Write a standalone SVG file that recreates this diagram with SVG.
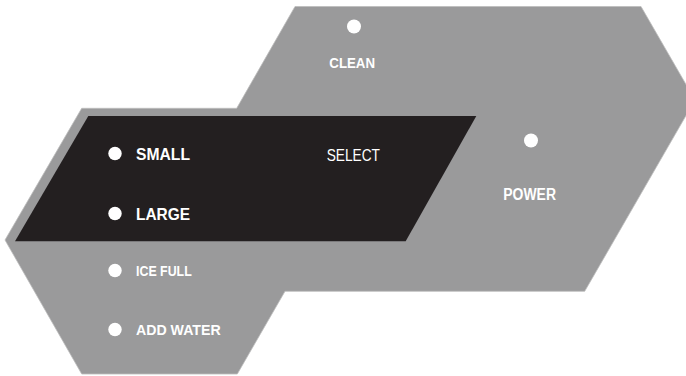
<svg xmlns="http://www.w3.org/2000/svg" width="686" height="376" viewBox="0 0 686 376">
<style>
.lbl{font-family:"Liberation Sans","Noto Sans",Arial,sans-serif;font-weight:bold;fill:#ffffff}
.sel{font-family:"Liberation Sans","Noto Sans",Arial,sans-serif;font-weight:normal;fill:#ffffff}
.dot{fill:#ffffff}
</style>
<rect width="686" height="376" fill="#ffffff"/>
<g id="panel">
<polygon points="295,6.5 641,6.5 695,100 584.7,291.3 285,291.3 237.3,374 81.7,374 5,240 81.7,108.3 236.7,108.3" fill="#9a9a9b" stroke="#bdbdbd" stroke-width="0.8"/>
<polygon points="88.3,116 476.3,116 405.7,241.3 15,241.3" fill="#231f20"/>
</g>
<g id="small">
<circle class="dot" cx="115" cy="153.5" r="6.7"/>
<text class="lbl" x="136" y="160" font-size="16.5" textLength="54" lengthAdjust="spacingAndGlyphs">SMALL</text>
</g>
<g id="large">
<circle class="dot" cx="115" cy="213.5" r="6.7"/>
<text class="lbl" x="136" y="220" font-size="16.5" textLength="54" lengthAdjust="spacingAndGlyphs">LARGE</text>
</g>
<g id="select">
<text class="sel" x="326.7" y="160.7" font-size="17" textLength="53.3" lengthAdjust="spacingAndGlyphs">SELECT</text>
</g>
<g id="ice-full">
<circle class="dot" cx="115" cy="270.5" r="6.7"/>
<text class="lbl" x="136" y="276" font-size="15" textLength="55.7" lengthAdjust="spacingAndGlyphs">ICE FULL</text>
</g>
<g id="add-water">
<circle class="dot" cx="115" cy="329.5" r="6.7"/>
<text class="lbl" x="136" y="335.3" font-size="15" textLength="84.7" lengthAdjust="spacingAndGlyphs">ADD WATER</text>
</g>
<g id="clean">
<circle class="dot" cx="354" cy="26.5" r="7"/>
<text class="lbl" x="329.3" y="67.7" font-size="15" textLength="45.7" lengthAdjust="spacingAndGlyphs">CLEAN</text>
</g>
<g id="power">
<circle class="dot" cx="531" cy="140.5" r="7"/>
<text class="lbl" x="503.3" y="199.7" font-size="16" textLength="52.7" lengthAdjust="spacingAndGlyphs">POWER</text>
</g>
</svg>
